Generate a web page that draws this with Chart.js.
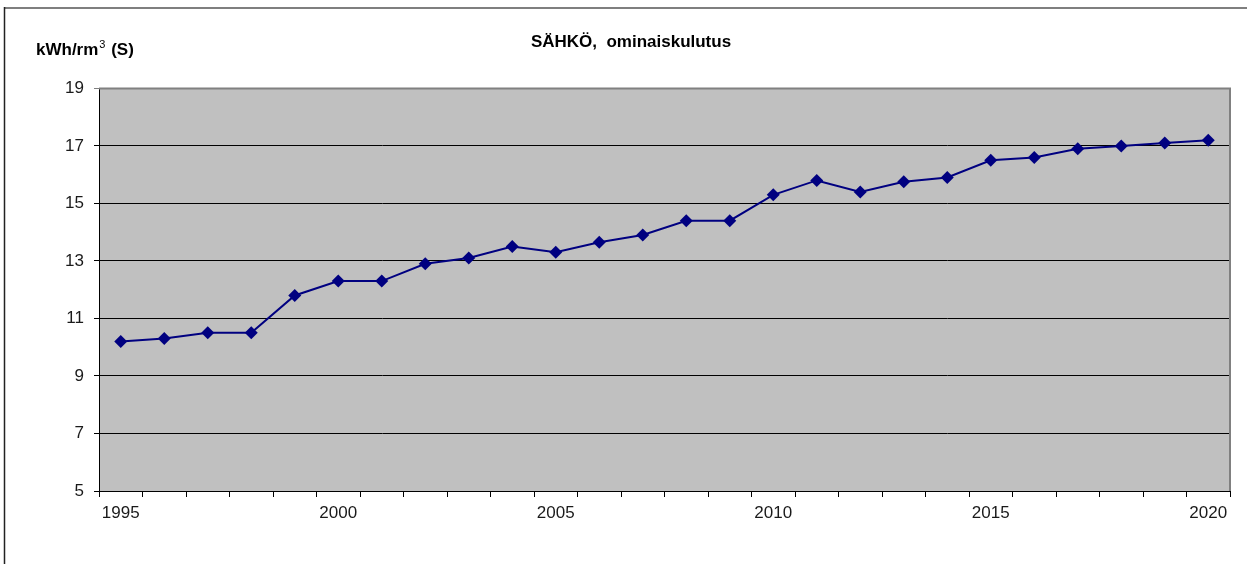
<!DOCTYPE html>
<html>
<head>
<meta charset="utf-8">
<script src="https://cdn.jsdelivr.net/npm/chart.js@4"></script>
<style>
  html, body { margin: 0; padding: 0; background: #fff; }
  #wrap { width: 1247px; height: 564px; }
</style>
</head>
<body>
<div id="wrap"><canvas id="chart" width="1247" height="564"></canvas></div>
<script>
    // Data
    var years = ['1995', '1996', '1997', '1998', '1999', '2000', '2001', '2002', '2003', '2004',
                 '2005', '2006', '2007', '2008', '2009', '2010', '2011', '2012', '2013', '2014',
                 '2015', '2016', '2017', '2018', '2019', '2020'];
    var consumption = [10.2, 10.3, 10.5, 10.5, 11.8, 12.3, 12.3, 12.9, 13.1, 13.5,
                       13.3, 13.65, 13.9, 14.4, 14.4, 15.3, 15.8, 15.4, 15.75, 15.9,
                       16.5, 16.6, 16.9, 17.0, 17.1, 17.2];
    var yTicks = [5, 7, 9, 11, 13, 15, 17, 19];
    var labeledYears = ['1995', '2000', '2005', '2010', '2015', '2020'];

    var fontFamily = '"Liberation Sans", Arial, sans-serif';

    // Grey plot background, plot border and outer frame, unit label
    var decorations = {
        id: 'decorations',
        beforeDraw: function (chart) {
            var c = chart.ctx, a = chart.chartArea;
            c.save();
            c.fillStyle = '#c0c0c0';
            c.fillRect(a.left, a.top, a.right - a.left, a.bottom - a.top);
            // outer frame (top and left)
            c.strokeStyle = '#7f7f7f';
            c.lineWidth = 2;
            c.beginPath();
            c.moveTo(4, 8);
            c.lineTo(1247, 8);
            c.stroke();
            c.strokeStyle = '#222';
            c.lineWidth = 1.5;
            c.beginPath();
            c.moveTo(4.5, 7);
            c.lineTo(4.5, 564);
            c.stroke();
            // unit label
            c.fillStyle = '#000';
            c.textBaseline = 'alphabetic';
            c.font = 'bold 17px ' + fontFamily;
            var x = 36, y = 55;
            c.fillText('kWh/rm', x, y);
            x += c.measureText('kWh/rm').width + 1;
            c.font = '11px ' + fontFamily;
            c.fillText('3', x, y - 7);
            x += c.measureText('3').width + 1;
            c.font = 'bold 17px ' + fontFamily;
            c.fillText(' (S)', x, y);
            c.restore();
        },
        afterDraw: function (chart) {
            var c = chart.ctx, a = chart.chartArea;
            c.save();
            c.strokeStyle = '#808080';
            c.lineWidth = 2;
            c.beginPath();
            c.moveTo(a.left, a.top);
            c.lineTo(a.right, a.top);
            c.lineTo(a.right, a.bottom);
            c.stroke();
            c.restore();
        }
    };

    var ctx = document.getElementById('chart').getContext('2d');
    new Chart(ctx, {
        type: 'line',
        data: {
            labels: years,
            datasets: [{
                label: 'SÄHKÖ',
                data: consumption,
                borderColor: '#000080',
                backgroundColor: '#000080',
                borderWidth: 2,
                pointStyle: 'rectRot',
                pointRadius: 6.5,
                pointHoverRadius: 6.5,
                pointBorderWidth: 0,
                fill: false,
                tension: 0
            }]
        },
        options: {
            responsive: false,
            animation: false,
            layout: {
                padding: { left: 32, right: 17, top: 0, bottom: 30 }
            },
            scales: {
                x: {
                    type: 'category',
                    offset: true,
                    grid: {
                        offset: true,
                        drawOnChartArea: false,
                        drawTicks: true,
                        tickLength: 6,
                        color: '#000'
                    },
                    border: { color: '#000', width: 1 },
                    ticks: {
                        autoSkip: false,
                        maxRotation: 0,
                        padding: 6,
                        color: '#1a1a1a',
                        font: { family: fontFamily, size: 17 },
                        callback: function (value) {
                            var lab = this.getLabelForValue(value);
                            return labeledYears.indexOf(lab) >= 0 ? lab : '';
                        }
                    },
                    afterFit: function (scale) { scale.height = 43; }
                },
                y: {
                    min: yTicks[0],
                    max: yTicks[yTicks.length - 1],
                    afterBuildTicks: function (scale) {
                        scale.ticks = yTicks.map(function (v) { return { value: v }; });
                    },
                    grid: {
                        color: function (c) {
                            return c.tick && c.tick.value === 19 ? '#808080' : '#000';
                        },
                        tickLength: 5,
                        lineWidth: 1
                    },
                    border: { color: '#000', width: 1 },
                    ticks: {
                        padding: 10,
                        color: '#1a1a1a',
                        font: { family: fontFamily, size: 17 }
                    },
                    afterFit: function (scale) { scale.width = 67; }
                }
            },
            plugins: {
                legend: { display: false },
                tooltip: { enabled: false },
                title: {
                    display: true,
                    text: 'SÄHKÖ,  ominaiskulutus',
                    color: '#000',
                    font: { family: fontFamily, size: 17, weight: 'bold' },
                    padding: { top: 32, bottom: 36 }
                }
            }
        },
        plugins: [decorations]
    });
</script>
</body>
</html>
